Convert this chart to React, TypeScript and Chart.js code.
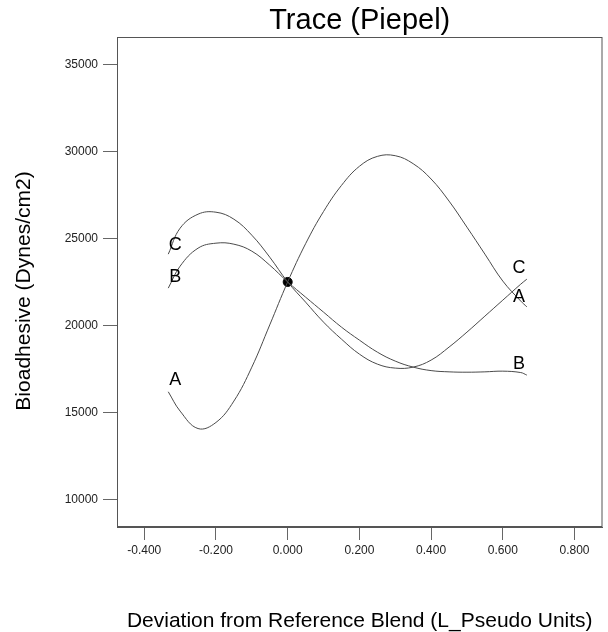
import React, { useEffect, useRef } from "react";
import { Chart, registerables } from "chart.js";

Chart.register(...registerables);

const xValues = [-0.333, -0.3, -0.25, -0.2, -0.15, -0.1, -0.05, 0, 0.05, 0.1, 0.15, 0.2, 0.25, 0.3, 0.35, 0.4, 0.45, 0.5, 0.55, 0.6, 0.65, 0.667];
const seriesA = [16184, 15075, 14069, 14420, 15650, 17600, 20030, 22500, 24700, 26550, 28050, 29150, 29720, 29760, 29300, 28420, 27150, 25650, 24100, 22550, 21400, 21069];
const seriesB = [22144, 23408, 24442, 24730, 24672, 24270, 23465, 22500, 21626, 20764, 19902, 19155, 18465, 17948, 17603, 17402, 17330, 17310, 17330, 17370, 17290, 17143];
const seriesC = [24098, 25592, 26396, 26511, 26109, 25189, 23925, 22500, 21339, 20189, 19212, 18350, 17776, 17546, 17603, 18006, 18753, 19615, 20534, 21454, 22373, 22661];
const centerPoint = { x: 0, y: 22500 };

const xTickValues = [-0.4, -0.2, 0, 0.2, 0.4, 0.6, 0.8];
const yTickValues = [10000, 15000, 20000, 25000, 30000, 35000];

const labelTexts = ["C", "B", "A", "C", "A", "B"];
const labelX = [-0.3134, -0.3134, -0.3134, 0.645, 0.645, 0.645];
const labelY = [24643, 22776, 16856, 23292, 21626, 17776];

const titleText = "Trace (Piepel)";
const xTitle = "Deviation from Reference Blend (L_Pseudo Units)";
const yTitle = "Bioadhesive (Dynes/cm2)";

const FONT = "'Liberation Sans', Arial, sans-serif";

export default function App() {
  const ref = useRef<HTMLCanvasElement>(null);
  useEffect(() => {
    document.body.style.margin = "0";
    const canvas = ref.current!;
    const toPts = (ys: number[]) => xValues.map((x, i) => ({ x, y: ys[i] }));
    const lineDs = (label: string, ys: number[]) => ({
      label,
      data: toPts(ys),
      borderColor: "#4a4a4a",
      borderWidth: 1,
      pointRadius: 0,
      tension: 0.4,
      fill: false,
    });
    const decor = {
      id: "decor",
      afterDraw(chart: any) {
        const ctx = chart.ctx;
        const a = chart.chartArea;
        const xs = chart.scales.x;
        const ys = chart.scales.y;
        ctx.save();
        ctx.strokeStyle = "#555";
        ctx.lineWidth = 1;
        ctx.strokeRect(a.left + 0.5, a.top + 0.5, a.right - a.left - 1, a.bottom - a.top - 1);
        ctx.fillStyle = "#000";
        ctx.textAlign = "center";
        ctx.textBaseline = "middle";
        ctx.font = `18px ${FONT}`;
        labelTexts.forEach((t, i) => {
          ctx.fillText(t, xs.getPixelForValue(labelX[i]), ys.getPixelForValue(labelY[i]));
        });
        ctx.font = `29px ${FONT}`;
        ctx.textBaseline = "alphabetic";
        ctx.fillText(titleText, (a.left + a.right) / 2, 29);
        ctx.font = `21px ${FONT}`;
        ctx.fillText(xTitle, (a.left + a.right) / 2, 627);
        ctx.translate(30, 291);
        ctx.rotate(-Math.PI / 2);
        ctx.fillText(yTitle, 0, 0);
        ctx.restore();
      },
    };
    const chart = new Chart(canvas, {
      type: "line",
      data: {
        datasets: [
          lineDs("A", seriesA),
          lineDs("B", seriesB),
          lineDs("C", seriesC),
          {
            label: "center",
            data: [centerPoint],
            showLine: false,
            pointRadius: 4.5,
            pointBackgroundColor: "#000",
            pointBorderColor: "#000",
            borderColor: "#000",
          } as any,
        ],
      },
      options: {
        animation: false,
        responsive: false,
        maintainAspectRatio: false,
        parsing: false as any,
        layout: { padding: { left: 0, top: 37, right: 3, bottom: 0 } },
        plugins: { legend: { display: false }, tooltip: { enabled: false }, title: { display: false } },
        scales: {
          x: {
            type: "linear",
            min: -0.476,
            max: 0.878,
            afterBuildTicks: (s: any) => {
              s.ticks = xTickValues.map((v) => ({ value: v }));
            },
            afterFit: (s: any) => {
              s.height = 105;
            },
            ticks: {
              callback: (v: any) => Number(v).toFixed(3),
              font: { size: 12, family: FONT },
              color: "#222",
              padding: 3,
              maxRotation: 0,
              autoSkip: false,
            },
            grid: { drawOnChartArea: false, drawTicks: true, tickLength: 13, color: "#666" },
            border: { display: true, color: "#555" },
          },
          y: {
            type: "linear",
            min: 8408,
            max: 36586,
            afterBuildTicks: (s: any) => {
              s.ticks = yTickValues.map((v) => ({ value: v }));
            },
            afterFit: (s: any) => {
              s.width = 117;
            },
            ticks: {
              callback: (v: any) => String(v),
              font: { size: 12, family: FONT },
              color: "#222",
              padding: 5,
              autoSkip: false,
            },
            grid: { drawOnChartArea: false, drawTicks: true, tickLength: 14, color: "#666" },
            border: { display: true, color: "#555" },
          },
        },
      },
      plugins: [decor],
    });
    return () => chart.destroy();
  }, []);
  return (
    <div style={{ width: 608, height: 632 }}>
      <canvas ref={ref} width={608} height={632} style={{ display: "block" }} />
    </div>
  );
}
